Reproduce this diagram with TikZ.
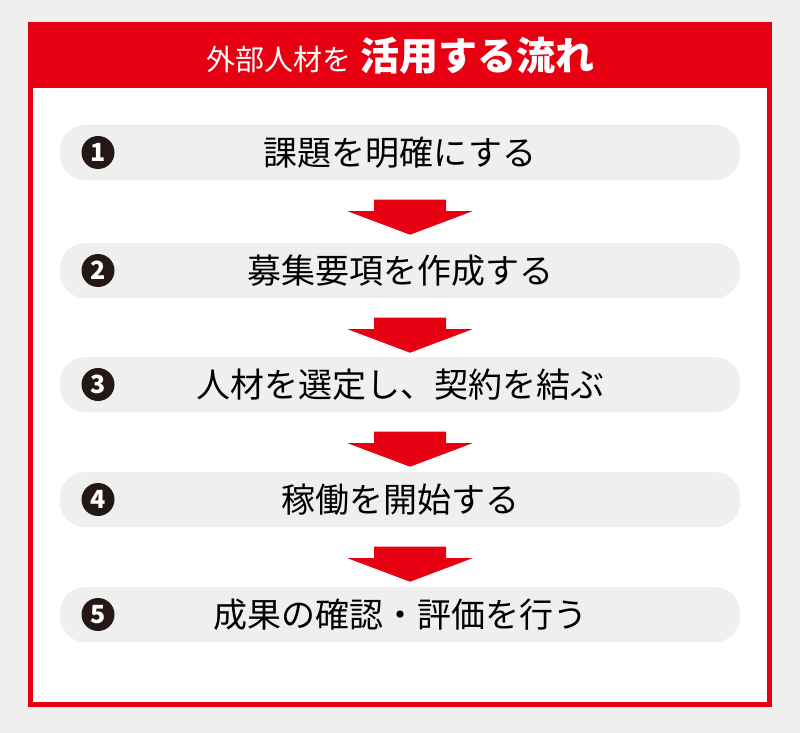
\documentclass[tikz,border=0pt]{standalone}
\usepackage{fontspec}
\setmainfont{Noto Sans CJK JP}
\usetikzlibrary{calc}
\definecolor{bg}{HTML}{EFEFEF}
\definecolor{jred}{HTML}{E60012}
\definecolor{dark}{HTML}{231815}
\tikzset{
  stepbox/.style={fill=bg, rounded corners=25pt, minimum width=680pt, minimum height=55pt, inner sep=0pt, text=black, font=\fontsize{34}{34}\selectfont},
  numdot/.style={circle, fill=dark, minimum size=33pt, inner sep=0pt, text=white, font=\fontsize{25}{25}\selectfont\bfseries},
  flowarrow/.style={fill=jred, draw=none}
}
\newcommand\drawflowarrow[1]{%
  \path let \p1=(#1.south) in
    [flowarrow] (\x1+10pt-36pt,\y1-19.5pt) -- (\x1+10pt+36pt,\y1-19.5pt)
    -- (\x1+10pt+36pt,\y1-31pt) -- (\x1+10pt+62.5pt,\y1-31pt)
    -- (\x1+10pt,\y1-54.5pt) -- (\x1+10pt-62.5pt,\y1-31pt)
    -- (\x1+10pt-36pt,\y1-31pt) -- cycle;}
\begin{document}
\begin{tikzpicture}[x=1pt,y=-1pt]
\useasboundingbox (0,0) rectangle (800,733);
\fill[bg] (0,0) rectangle (800,733);
\fill[jred] (28,22) rectangle (772,707);
\fill[white] (33,88) rectangle (767,702);
\node[text=white, inner sep=0pt] (title) at (400,56) {{\fontsize{29}{29}\selectfont 外部人材を}\hspace{9pt}{\fontsize{39}{39}\selectfont\bfseries 活用する流れ}};
\node[stepbox] (r1) at (400,152.5) {課題を明確にする};
\node[stepbox] (r2) at (400,270.5) {募集要項を作成する};
\node[stepbox] (r3) at (400,384.5) {人材を選定し、契約を結ぶ};
\node[stepbox] (r4) at (400,499.5) {稼働を開始する};
\node[stepbox] (r5) at (400,614.5) {成果の確認・評価を行う};
\node[numdot] (n1) at (98,152.5) {1};
\node[numdot] (n2) at (98,270.5) {2};
\node[numdot] (n3) at (98,384.5) {3};
\node[numdot] (n4) at (98,499.5) {4};
\node[numdot] (n5) at (98,614.5) {5};
\drawflowarrow{r1}
\drawflowarrow{r2}
\drawflowarrow{r3}
\drawflowarrow{r4}
\end{tikzpicture}
\end{document}
